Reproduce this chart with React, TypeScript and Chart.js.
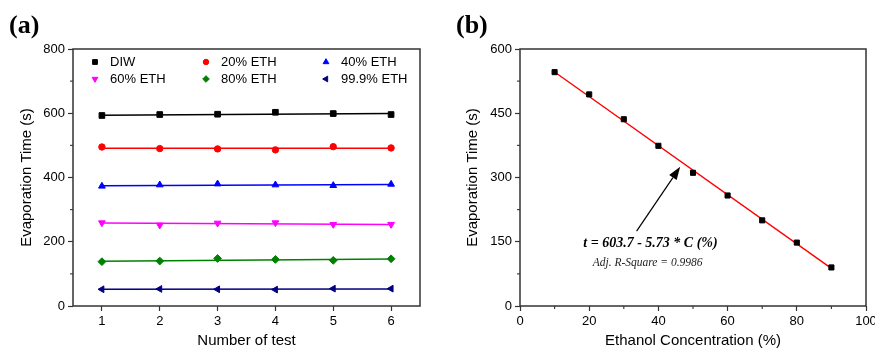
import React, { useEffect, useRef } from "react";
import { Chart, registerables } from "chart.js";
import { drawPoint } from "chart.js/helpers";

Chart.register(...registerables);

// ---------- Panel (a) data ----------
const testNumbers = [1, 2, 3, 4, 5, 6];
const fitRange = [1, 6];
const diw = [593, 596, 597, 603, 599, 596];
const diwFit = [594, 599];
const eth20 = [495, 490, 489, 486, 496, 492];
const eth20Fit = [491, 491];
const eth40 = [373, 377, 380, 377, 375, 379];
const eth40Fit = [374, 378];
const eth60 = [259, 252, 258, 259, 254, 254];
const eth60Fit = [258, 254];
const eth80 = [138, 140, 148, 145, 142, 147];
const eth80Fit = [139, 146];
const eth999 = [52, 53, 52, 51, 54, 54];
const eth999Fit = [52, 53];
const seriesNames = ["DIW", "20% ETH", "40% ETH", "60% ETH", "80% ETH", "99.9% ETH"];
const yTicksA = [0, 200, 400, 600, 800];

// ---------- Panel (b) data ----------
const concentration = [10, 20, 30, 40, 50, 60, 70, 80, 90];
const evapTime = [546, 494, 436, 374, 311, 258, 200, 148, 90];
const fitConc = [10, 90];
const fitTime = [546.4, 88];
const xTicksB = [0, 20, 40, 60, 80, 100];
const yTicksB = [0, 150, 300, 450, 600];
const equationText = "t = 603.7 - 5.73 * C (%)";
const r2Text = "Adj. R-Square = 0.9986";

const SANS = '"Liberation Sans", Arial, sans-serif';
const SERIF = '"Liberation Serif", "Times New Roman", serif';
Chart.defaults.font.family = SANS;
Chart.defaults.color = "#000";

const seriesStyles = [
  { color: "#000000", pointStyle: "rect", rotation: 0, radius: 4 },
  { color: "#ff0000", pointStyle: "circle", rotation: 0, radius: 3.2 },
  { color: "#0000ff", pointStyle: "triangle", rotation: 0, radius: 3.9 },
  { color: "#ff00ff", pointStyle: "triangle", rotation: 180, radius: 3.9 },
  { color: "#008000", pointStyle: "rectRot", rotation: 0, radius: 3.9 },
  { color: "#000080", pointStyle: "triangle", rotation: -90, radius: 3.9 },
];
const seriesValues = [diw, eth20, eth40, eth60, eth80, eth999];
const seriesFits = [diwFit, eth20Fit, eth40Fit, eth60Fit, eth80Fit, eth999Fit];

const framePlugin = {
  id: "frame",
  afterDatasetsDraw(chart: any, _args: any, opts: any) {
    const { ctx, chartArea } = chart;
    const { left, top, right, bottom } = chartArea;
    const xs = chart.scales.x;
    const ys = chart.scales.y;
    ctx.save();
    ctx.strokeStyle = "#333";
    ctx.lineWidth = 1.5;
    ctx.strokeRect(left, top, right - left, bottom - top);
    ctx.lineWidth = 1.1;
    const isMajor = (v: number, step: number) =>
      Math.abs(v / step - Math.round(v / step)) < 1e-6;
    if (opts.minorX) {
      for (let v = xs.min; v <= xs.max + 1e-9; v += opts.minorX) {
        if (isMajor(v, opts.majorX)) continue;
        const px = xs.getPixelForValue(v);
        ctx.beginPath();
        ctx.moveTo(px, bottom);
        ctx.lineTo(px, bottom + 3);
        ctx.stroke();
      }
    }
    if (opts.minorY) {
      for (let v = ys.min; v <= ys.max + 1e-9; v += opts.minorY) {
        if (isMajor(v, opts.majorY)) continue;
        const py = ys.getPixelForValue(v);
        ctx.beginPath();
        ctx.moveTo(left, py);
        ctx.lineTo(left - 3, py);
        ctx.stroke();
      }
    }
    if (opts.label) {
      ctx.font = `bold 26px ${SERIF}`;
      ctx.fillStyle = "#000";
      ctx.textBaseline = "middle";
      ctx.textAlign = "left";
      ctx.fillText(opts.label, opts.labelX, opts.labelY);
    }
    ctx.restore();
  },
};

const innerLegendPlugin = {
  id: "innerLegend",
  afterDatasetsDraw(chart: any) {
    const { ctx, chartArea } = chart;
    const colMarker = [22, 133, 253];
    const rowY = [13, 30];
    ctx.save();
    ctx.font = `13px ${SANS}`;
    ctx.textBaseline = "middle";
    ctx.textAlign = "left";
    seriesNames.forEach((name, i) => {
      const st = seriesStyles[i];
      const col = i % 3;
      const row = Math.floor(i / 3);
      const mx = chartArea.left + colMarker[col];
      const my = chartArea.top + rowY[row];
      ctx.fillStyle = st.color;
      ctx.strokeStyle = st.color;
      drawPoint(ctx, { pointStyle: st.pointStyle, rotation: st.rotation, radius: st.radius * 0.85, borderWidth: 1 } as any, mx, my);
      ctx.fillStyle = "#000";
      ctx.fillText(name, mx + 15, my + 0.5);
    });
    ctx.restore();
  },
};

const annotationPlugin = {
  id: "fitNote",
  afterDatasetsDraw(chart: any) {
    const { ctx } = chart;
    const xs = chart.scales.x;
    const ys = chart.scales.y;
    const tx = xs.getPixelForValue(33.7);
    const ty = ys.getPixelForValue(175);
    const hx = xs.getPixelForValue(46.3);
    const hy = ys.getPixelForValue(325);
    const ang = Math.atan2(hy - ty, hx - tx);
    const headLen = 13;
    const headHalf = 4.5;
    const bx = hx - Math.cos(ang) * headLen;
    const by = hy - Math.sin(ang) * headLen;
    ctx.save();
    ctx.strokeStyle = "#000";
    ctx.fillStyle = "#000";
    ctx.lineWidth = 1.2;
    ctx.beginPath();
    ctx.moveTo(tx, ty);
    ctx.lineTo(bx, by);
    ctx.stroke();
    ctx.beginPath();
    ctx.moveTo(hx, hy);
    ctx.lineTo(bx - Math.sin(ang) * headHalf, by + Math.cos(ang) * headHalf);
    ctx.lineTo(bx + Math.sin(ang) * headHalf, by - Math.cos(ang) * headHalf);
    ctx.closePath();
    ctx.fill();
    ctx.textAlign = "center";
    ctx.textBaseline = "middle";
    ctx.font = `italic bold 14px ${SERIF}`;
    ctx.fillText(equationText, xs.getPixelForValue(37.7), ys.getPixelForValue(147));
    ctx.font = `italic 11.5px ${SERIF}`;
    ctx.fillStyle = "#222";
    ctx.fillText(r2Text, xs.getPixelForValue(36.9), ys.getPixelForValue(99.7));
    ctx.restore();
  },
};

const tickGrid = {
  display: true,
  drawOnChartArea: false,
  drawTicks: true,
  tickLength: 5,
  tickColor: "#333",
  tickWidth: 1.2,
};

function makeScales(opts: {
  xMin: number; xMax: number; xTicks: number[]; xTitle: string;
  yMin: number; yMax: number; yTicks: number[]; yTitle: string;
  yWidth: number; yTitlePad: number;
}) {
  return {
    x: {
      type: "linear",
      min: opts.xMin,
      max: opts.xMax,
      afterBuildTicks: (s: any) => { s.ticks = opts.xTicks.map((v) => ({ value: v })); },
      ticks: { font: { size: 13 }, color: "#000", padding: 3, maxRotation: 0 },
      grid: tickGrid,
      border: { display: false },
      title: { display: true, text: opts.xTitle, color: "#000", font: { size: 15 }, padding: { top: 0, bottom: 1 } },
      afterFit: (s: any) => { s.height = 45; s.paddingLeft = 0; s.paddingRight = 0; },
    },
    y: {
      type: "linear",
      min: opts.yMin,
      max: opts.yMax,
      afterBuildTicks: (s: any) => { s.ticks = opts.yTicks.map((v) => ({ value: v })); },
      ticks: { font: { size: 13 }, color: "#000", padding: 3 },
      grid: tickGrid,
      border: { display: false },
      title: { display: true, text: opts.yTitle, color: "#000", font: { size: 15 }, padding: { top: opts.yTitlePad, bottom: 0 } },
      afterFit: (s: any) => { s.width = opts.yWidth; s.paddingTop = 0; s.paddingBottom = 0; },
    },
  };
}

function PanelA() {
  const ref = useRef<HTMLCanvasElement>(null);
  useEffect(() => {
    const pointSets = seriesValues.map((vals, i) => ({
      label: seriesNames[i],
      data: testNumbers.map((x, j) => ({ x, y: vals[j] })),
      showLine: false,
      pointStyle: seriesStyles[i].pointStyle,
      rotation: seriesStyles[i].rotation,
      pointRadius: seriesStyles[i].radius,
      backgroundColor: seriesStyles[i].color,
      borderColor: seriesStyles[i].color,
      borderWidth: 1,
    }));
    const fitSets = seriesFits.map((f, i) => ({
      label: seriesNames[i] + " fit",
      data: fitRange.map((x, j) => ({ x, y: f[j] })),
      showLine: true,
      pointRadius: 0,
      borderColor: seriesStyles[i].color,
      borderWidth: 1.5,
      fill: false,
    }));
    const chart = new Chart(ref.current as HTMLCanvasElement, {
      type: "scatter",
      data: { datasets: [...pointSets, ...fitSets] as any },
      options: {
        responsive: false,
        animation: false,
        layout: { padding: { top: 49, right: 17, bottom: 0, left: 0 } },
        plugins: {
          legend: { display: false },
          tooltip: { enabled: false },
          frame: { minorY: 100, majorY: 200, label: "(a)", labelX: 9, labelY: 26 },
        } as any,
        scales: makeScales({
          xMin: 0.5, xMax: 6.5, xTicks: testNumbers, xTitle: "Number of test",
          yMin: 0, yMax: 800, yTicks: yTicksA, yTitle: "Evaporation Time (s)",
          yWidth: 73, yTitlePad: 18,
        }) as any,
      },
      plugins: [framePlugin, innerLegendPlugin],
    });
    return () => chart.destroy();
  }, []);
  return <canvas ref={ref} width={437} height={351} style={{ position: "absolute", left: 0, top: 0, width: 437, height: 351 }} />;
}

function PanelB() {
  const ref = useRef<HTMLCanvasElement>(null);
  useEffect(() => {
    const chart = new Chart(ref.current as HTMLCanvasElement, {
      type: "scatter",
      data: {
        datasets: [
          {
            label: "Evaporation time",
            data: concentration.map((x, j) => ({ x, y: evapTime[j] })),
            showLine: false,
            pointStyle: "rect",
            pointRadius: 3.6,
            backgroundColor: "#000",
            borderColor: "#000",
            borderWidth: 1,
          },
          {
            label: "Linear fit",
            data: fitConc.map((x, j) => ({ x, y: fitTime[j] })),
            showLine: true,
            pointRadius: 0,
            borderColor: "#ff0000",
            borderWidth: 1.4,
            fill: false,
          },
        ] as any,
      },
      options: {
        responsive: false,
        animation: false,
        layout: { padding: { top: 49, right: 9, bottom: 0, left: 0 } },
        plugins: {
          legend: { display: false },
          tooltip: { enabled: false },
          frame: { minorX: 10, majorX: 20, minorY: 75, majorY: 150, label: "(b)", labelX: 19, labelY: 26 },
        } as any,
        scales: makeScales({
          xMin: 0, xMax: 100, xTicks: xTicksB, xTitle: "Ethanol Concentration (%)",
          yMin: 0, yMax: 600, yTicks: yTicksB, yTitle: "Evaporation Time (s)",
          yWidth: 83, yTitlePad: 27,
        }) as any,
      },
      plugins: [framePlugin, annotationPlugin],
    });
    return () => chart.destroy();
  }, []);
  return <canvas ref={ref} width={438} height={351} style={{ position: "absolute", left: 437, top: 0, width: 438, height: 351 }} />;
}

export default function App() {
  return (
    <div style={{ position: "fixed", left: 0, top: 0, width: 875, height: 351, background: "#fff", overflow: "hidden" }}>
      <PanelA />
      <PanelB />
    </div>
  );
}
